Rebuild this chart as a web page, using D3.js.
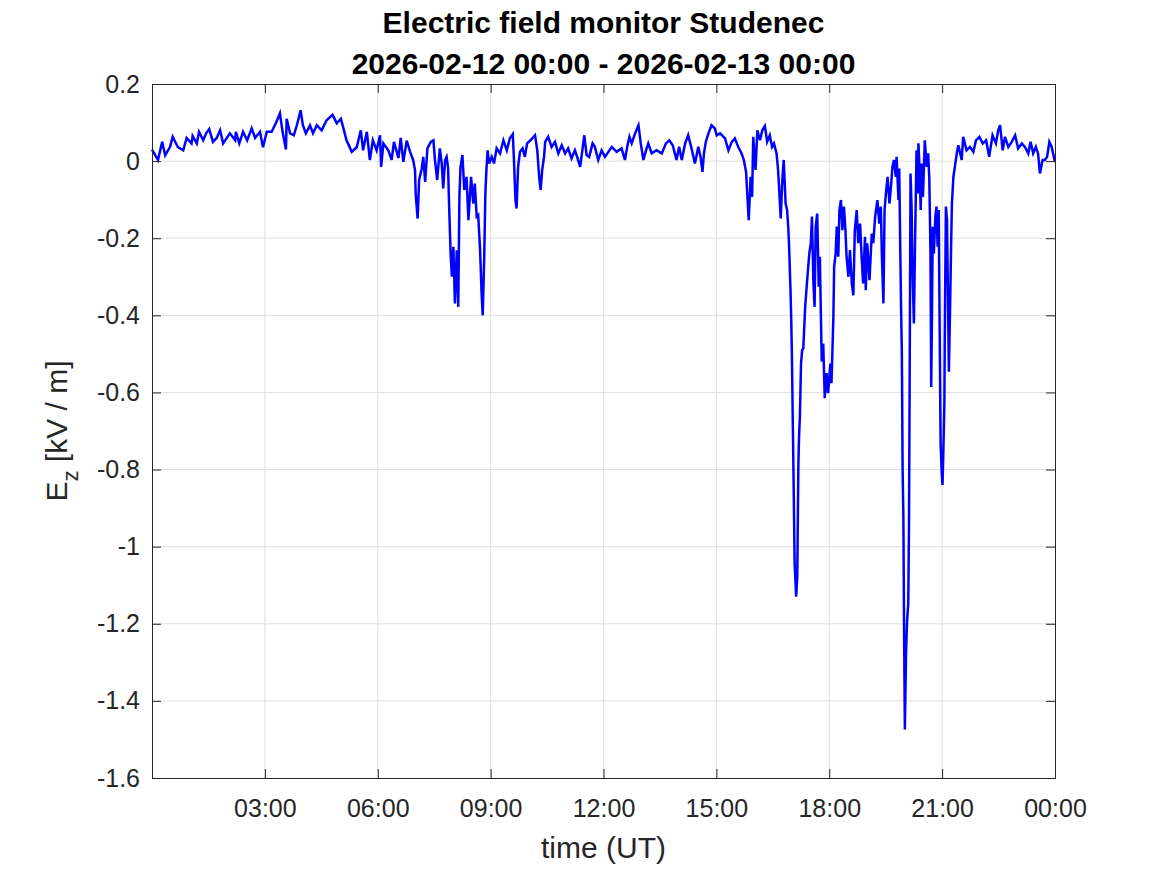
<!DOCTYPE html>
<html>
<head>
<meta charset="utf-8">
<script src="https://cdn.jsdelivr.net/npm/d3@7"></script>
<style>
  body { margin: 0; background: #fff; }
  text { font-family: "Liberation Sans", Arial, Helvetica, sans-serif; }
</style>
</head>
<body>
<div id="chart"></div>
<script>
// time of day in hours (UT) and Ez in kV/m
const timeHours = [
  0,0.13,0.16,0.27,0.35,0.48,0.55,0.69,0.83,0.92,1.05,1.08,1.19,1.25,1.36,1.44,1.52,1.62,1.72,1.81,1.89,
  2.07,2.21,2.23,2.32,2.42,2.53,2.65,2.74,2.87,2.95,3.05,3.18,3.30,3.40,3.47,3.56,3.58,3.67,3.77,3.85,3.95,
  4.01,4.09,4.2,4.28,4.38,4.51,4.64,4.80,4.91,5.02,5.08,5.17,5.31,5.44,5.55,5.61,5.71,5.79,5.87,5.97,
  6.06,6.09,6.15,6.28,6.37,6.43,6.55,6.61,6.68,6.77,6.86,6.94,6.99,7.01,7.06,7.10,7.17,7.21,7.26,7.32,
  7.41,7.48,7.52,7.58,7.65,7.70,7.74,7.79,7.83,7.87,7.90,7.94,7.97,8.01,8.05,8.10,8.14,8.17,8.20,8.25,
  8.30,8.36,8.41,8.48,8.54,8.58,8.63,8.67,8.72,8.76,8.79,8.83,8.86,8.89,8.92,8.96,9.03,9.09,9.16,9.25,
  9.34,9.43,9.51,9.59,9.62,9.66,9.69,9.73,9.78,9.85,9.91,9.97,10.06,10.18,10.24,10.29,10.33,10.37,10.42,
  10.45,10.53,10.62,10.71,10.80,10.89,10.98,11.06,11.15,11.24,11.30,11.38,11.45,11.49,11.55,11.62,11.71,
  11.77,11.86,11.95,12.04,12.13,12.22,12.35,12.48,12.57,12.63,12.69,12.75,12.84,12.93,12.99,13.06,13.13,
  13.19,13.28,13.41,13.55,13.66,13.75,13.84,13.94,14.01,14.08,14.17,14.25,14.34,14.43,14.52,14.58,14.63,
  14.67,14.72,14.79,14.87,14.96,15.01,15.10,15.23,15.32,15.41,15.49,15.58,15.67,15.73,15.79,15.82,15.86,
  15.91,15.95,15.98,16.04,16.09,16.16,16.22,16.29,16.35,16.42,16.48,16.53,16.60,16.64,16.67,16.71,16.75,
  16.79,16.84,16.88,16.91,16.93,16.97,16.99,17.01,17.03,17.04,17.06,17.08,17.12,17.15,17.18,17.20,17.22,
  17.25,17.28,17.31,17.36,17.42,17.47,17.51,17.54,17.58,17.61,17.64,17.68,17.72,17.75,17.80,17.84,17.88,
  17.93,17.97,18.03,18.06,18.11,18.13,18.17,18.20,18.24,18.27,18.31,18.35,18.39,18.43,18.46,18.51,18.55,
  18.60,18.64,18.68,18.73,18.77,18.82,18.86,18.90,18.95,18.97,19.01,19.07,19.13,19.17,19.22,19.28,19.33,
  19.37,19.40,19.44,19.47,19.51,19.55,19.60,19.64,19.68,19.72,19.77,19.79,19.84,19.86,19.89,19.91,19.93,
  19.95,19.97,19.99,20.01,20.04,20.07,20.10,20.12,20.14,20.16,20.19,20.21,20.25,20.28,20.32,20.35,20.37,
  20.41,20.43,20.46,20.49,20.54,20.59,20.63,20.66,20.69,20.71,20.73,20.75,20.78,20.82,20.85,20.88,20.91,
  20.93,20.96,20.99,21.01,21.03,21.06,21.07,21.10,21.13,21.18,21.21,21.24,21.26,21.30,21.39,21.43,21.52,
  21.56,21.65,21.74,21.83,21.90,21.99,22.08,22.17,22.25,22.34,22.43,22.49,22.54,22.61,22.67,22.76,22.85,
  22.94,23.02,23.12,23.20,23.29,23.35,23.42,23.49,23.55,23.60,23.67,23.73,23.79,23.85,23.91,23.97,24.0
];
const ezValues = [
  0.03,0.008,0.003,0.05,0.015,0.037,0.063,0.036,0.028,0.06,0.046,0.065,0.046,0.076,0.054,0.072,0.083,0.05,0.06,0.08,0.046,
  0.072,0.054,0.076,0.046,0.076,0.054,0.085,0.06,0.076,0.036,0.076,0.076,0.10,0.124,0.076,0.03,0.11,0.072,0.067,0.093,0.132,
  0.093,0.072,0.093,0.072,0.093,0.08,0.106,0.12,0.098,0.11,0.088,0.054,0.024,0.036,0.08,0.028,0.076,0.003,0.054,0.028,
  0.067,-0.015,0.046,0.028,0.003,0.05,0.008,0.06,-0.002,0.053,0.024,0.003,-0.023,-0.088,-0.149,-0.049,-0.019,0.011,-0.054,0.033,
  0.05,0.054,0.003,-0.049,0.033,-0.006,-0.071,0.003,0.011,-0.019,-0.127,-0.248,-0.30,-0.222,-0.369,-0.231,-0.378,-0.093,-0.015,0.016,
  -0.075,-0.041,-0.153,-0.041,-0.11,-0.058,-0.144,-0.14,-0.231,-0.343,-0.40,-0.248,-0.084,-0.019,0.028,-0.006,0.011,-0.006,0.033,0.02,
  0.054,0.028,0.059,0.07,0.003,-0.101,-0.123,-0.015,0.024,0.033,0.011,0.046,0.054,0.067,0.028,-0.041,-0.075,-0.023,0.011,
  0.05,0.063,0.037,0.05,0.02,0.041,0.02,0.033,0.007,0.028,0.011,-0.015,0.037,0.067,0.016,0.011,0.046,
  0.037,0.003,0.028,0.011,0.024,0.037,0.024,0.033,0.003,0.037,0.063,0.046,0.072,0.093,0.046,0.003,0.028,
  0.046,0.02,0.028,0.02,0.046,0.054,0.041,0.003,0.037,0.003,0.046,0.067,0.033,-0.006,0.037,0.011,-0.028,
  0.02,0.05,0.072,0.093,0.085,0.067,0.072,0.059,0.028,0.05,0.059,0.037,0.02,0.003,-0.028,-0.084,-0.153,
  -0.041,-0.093,0.063,-0.023,0.08,0.054,0.08,0.091,0.05,0.067,0.037,0.046,0.02,-0.023,-0.075,-0.149,-0.054,
  0.003,-0.11,-0.127,-0.171,-0.213,-0.335,-0.412,-0.52,-0.67,-0.74,-0.888,-1.043,-1.13,-1.078,-0.784,-0.706,-0.663,
  -0.525,-0.49,-0.486,-0.378,-0.30,-0.24,-0.213,-0.144,-0.317,-0.378,-0.17,-0.136,-0.326,-0.248,-0.52,-0.473,-0.615,
  -0.55,-0.602,-0.525,-0.576,-0.404,-0.274,-0.24,-0.17,-0.248,-0.127,-0.101,-0.179,-0.118,-0.179,-0.248,-0.30,-0.231,
  -0.317,-0.348,-0.179,-0.127,-0.213,-0.162,-0.248,-0.317,-0.196,-0.335,-0.213,-0.309,-0.188,-0.213,-0.144,-0.101,-0.162,
  -0.118,-0.248,-0.369,-0.127,-0.08,-0.041,-0.11,-0.067,-0.015,0.003,-0.041,0.011,-0.101,-0.019,-0.248,-0.386,-0.50,
  -0.8,-0.92,-1.238,-1.474,-1.277,-1.19,-1.147,-0.94,-0.50,-0.032,-0.127,-0.274,-0.421,-0.213,0.028,-0.084,0.046,
  -0.041,-0.127,-0.006,-0.093,0.054,-0.015,0.02,-0.049,-0.231,-0.586,-0.4,-0.17,-0.24,-0.144,-0.118,-0.222,-0.127,
  -0.386,-0.732,-0.81,-0.84,-0.767,-0.628,-0.464,-0.118,-0.153,-0.546,-0.386,-0.213,-0.11,-0.041,0.02,0.041,0.003,
  0.063,0.028,0.037,0.024,0.054,0.063,0.046,0.054,0.011,0.067,0.046,0.08,0.093,0.028,0.063,0.037,0.05,
  0.067,0.033,0.046,0.037,0.02,0.05,0.02,0.037,0.02,-0.032,0.003,0.003,0.011,0.05,0.037,0.011,-0.002
];
const xTicks = [3, 6, 9, 12, 15, 18, 21, 24];
const xTickLabels = ["03:00", "06:00", "09:00", "12:00", "15:00", "18:00", "21:00", "00:00"];
const yTicks = [0.2, 0, -0.2, -0.4, -0.6, -0.8, -1, -1.2, -1.4, -1.6];

const w = 1167, h = 875;
const margin = {top: 84, right: 112, bottom: 97, left: 152};
const width = w - margin.left - margin.right,
      height = h - margin.top - margin.bottom;
const axisColor = "#262626";

const svg = d3.select("#chart").append("svg")
    .attr("width", w)
    .attr("height", h);

const g = svg.append("g")
    .attr("transform", "translate(" + margin.left + "," + margin.top + ")");

const x = d3.scaleLinear().domain([0, 24]).range([0, width]);
const y = d3.scaleLinear().domain([-1.6, 0.2]).range([height, 0]);

// grid
g.append("g").selectAll("line.vgrid")
    .data(xTicks.slice(0, -1))
    .enter().append("line")
    .attr("x1", d => x(d)).attr("x2", d => x(d))
    .attr("y1", 0).attr("y2", height)
    .attr("stroke", "#dfdfdf").attr("stroke-width", 1);

g.append("g").selectAll("line.hgrid")
    .data(yTicks.slice(1, -1))
    .enter().append("line")
    .attr("x1", 0).attr("x2", width)
    .attr("y1", d => y(d)).attr("y2", d => y(d))
    .attr("stroke", "#dfdfdf").attr("stroke-width", 1);

// data line
const pts = timeHours.map((t, i) => [t, ezValues[i]]);
g.append("path")
    .datum(pts)
    .attr("fill", "none")
    .attr("stroke", "#0000ff")
    .attr("stroke-width", 2.5)
    .attr("stroke-linejoin", "miter")
    .attr("d", d3.line().x(d => x(d[0])).y(d => y(d[1])));

// axes, ticks pointing inwards like matlab
const fmtY = v => String(Number(v.toFixed(1)));
const xAxis = d3.axisBottom(x).tickValues(xTicks)
    .tickFormat((d, i) => xTickLabels[i])
    .tickSize(-9).tickPadding(21);
const yAxis = d3.axisLeft(y).tickValues(yTicks)
    .tickFormat(fmtY).tickSize(-9).tickPadding(12);

g.append("g").attr("transform", "translate(0," + height + ")").call(xAxis);
g.append("g").call(yAxis);
g.append("g").call(d3.axisTop(x).tickValues(xTicks).tickFormat("").tickSize(-9));
g.append("g").attr("transform", "translate(" + width + ",0)")
    .call(d3.axisRight(y).tickValues(yTicks).tickFormat("").tickSize(-9));

g.selectAll(".domain").attr("stroke", axisColor).attr("stroke-width", 1);
g.selectAll(".tick line").attr("stroke", axisColor);
g.selectAll(".tick text")
    .attr("fill", axisColor)
    .style("font-size", "25px")
    .style("font-family", "'Liberation Sans', Arial, sans-serif");

// title
const title = svg.append("text")
    .attr("text-anchor", "middle")
    .style("font-size", "30px")
    .style("font-weight", "bold")
    .attr("fill", "#000");
title.append("tspan").attr("x", margin.left + width / 2).attr("y", 33).text("Electric field monitor Studenec");
title.append("tspan").attr("x", margin.left + width / 2).attr("y", 74).text("2026-02-12 00:00 - 2026-02-13 00:00");

// axis labels
svg.append("text")
    .attr("x", margin.left + width / 2)
    .attr("y", 858)
    .attr("text-anchor", "middle")
    .attr("fill", axisColor)
    .style("font-size", "30px")
    .text("time (UT)");

const yl = svg.append("text")
    .attr("transform", "translate(67," + (margin.top + height / 2) + ") rotate(-90)")
    .attr("text-anchor", "middle")
    .attr("fill", axisColor)
    .style("font-size", "30px");
yl.append("tspan").text("E");
yl.append("tspan").attr("dy", 11).style("font-size", "22px").text("z");
yl.append("tspan").attr("dy", -11).text(" [kV / m]");
</script>
</body>
</html>
